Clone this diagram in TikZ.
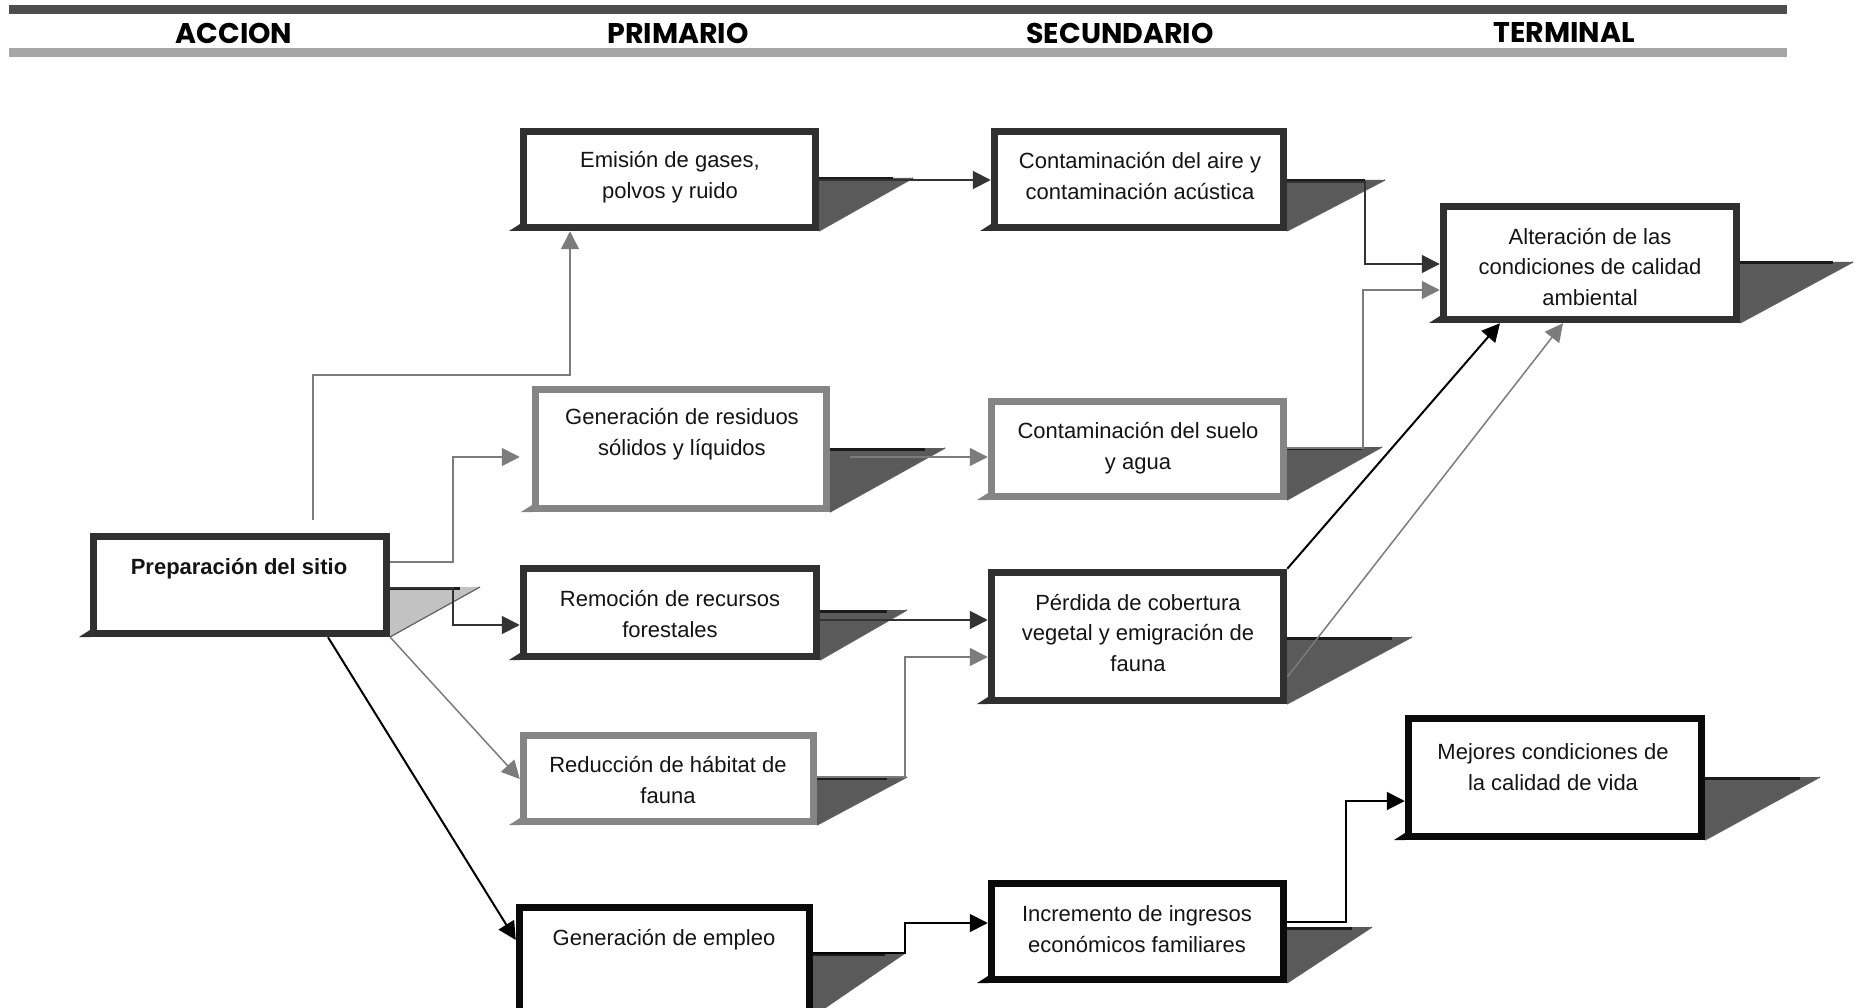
\documentclass[tikz,border=0pt]{standalone}
\usepackage{fontspec}
\setmainfont{Liberation Sans}
\newfontfamily\hdrfont{Poppins}
\usetikzlibrary{arrows.meta}
\definecolor{bdark}{HTML}{303030}
\definecolor{bgray}{HTML}{858585}
\definecolor{bblack}{HTML}{0A0A0A}
\definecolor{shfill}{HTML}{5A5A5A}
\definecolor{shlight}{HTML}{C2C2C2}
\definecolor{shedgec}{HTML}{1A1A1A}
\definecolor{txtc}{HTML}{141414}
\definecolor{lgray}{HTML}{7C7C7C}
\definecolor{ldark}{HTML}{333333}
\definecolor{hbarA}{HTML}{4D4D4D}
\definecolor{hbarB}{HTML}{A6A6A6}
% name, L, T, R, B, border colour, shadow top y, shadow tip x, shadow fill
\newcommand{\effbox}[9]{%
  \fill[#9] (#4,#7) -- (#8,#7) -- (#4,#5) -- cycle;
  \draw[shedgec, line width=3pt] (#4,#7+1) -- (#8-20,#7+1);
  \draw[shedgec!70, line width=1.2pt] (#8,#7) -- (#4,#5);
  \fill[#6] (#2,#5-7) -- (#2-11,#5) -- (#2,#5) -- cycle;
  \node[boxst, draw=#6, minimum width={#4-#2-7}, minimum height={#5-#3-7}] (#1) at ({(#2+#4)/2},{(#3+#5)/2}) {};
}
\begin{document}
\begin{tikzpicture}[x=1pt,y=-1pt,
  boxst/.style={line width=7.5pt, fill=white, inner sep=0pt, rectangle},
  txt/.style={font=\fontsize{22}{30.5}\selectfont, align=center, text=txtc, inner sep=0pt},
  hdr/.style={font=\hdrfont\bfseries\fontsize{28.5}{32}\selectfont, text=black, inner sep=0pt},
  arrowst/.style={-{Triangle[length=18pt,width=18pt]}},
  cgray/.style={draw=lgray, line width=1.5pt, arrowst},
  cdark/.style={draw=ldark, line width=2pt, arrowst},
  cblack/.style={draw=black, line width=2pt, arrowst}]
\useasboundingbox (0,0) rectangle (1858,1008);
\clip (0,0) rectangle (1858,1008);
\fill[white] (0,0) rectangle (1858,1008);
% header
\fill[hbarA] (9,5) rectangle (1787,14);
\fill[hbarB] (9,48) rectangle (1787,57);
\node[hdr] (h1) at (234,33) {ACCION};
\node[hdr] (h2) at (678,33) {PRIMARIO};
\node[hdr] (h3) at (1120,33) {SECUNDARIO};
\node[hdr] (h4) at (1564,33) {TERMINAL};
% boxes
\effbox{prep}{90}{533}{390}{637}{bdark}{587}{480}{shlight}
\effbox{emis}{520}{128}{819}{231}{bdark}{178}{913}{shfill}
\effbox{resid}{532}{386}{830}{512}{bgray}{448}{945}{shfill}
\effbox{remoc}{520}{565}{820}{660}{bdark}{610}{907}{shfill}
\effbox{reduc}{520}{732}{817}{825}{bgray}{777}{907}{shfill}
\effbox{empleo}{516}{904}{813}{1016}{bblack}{953}{905}{shfill}
\effbox{aire}{991}{128}{1287}{231}{bdark}{180}{1385}{shfill}
\effbox{suelo}{988}{398}{1287}{500}{bgray}{447}{1382}{shfill}
\effbox{perd}{988}{569}{1287}{704}{bdark}{637}{1412}{shfill}
\effbox{incr}{988}{880}{1287}{983}{bblack}{927}{1372}{shfill}
\effbox{alter}{1440}{203}{1740}{323}{bdark}{262}{1853}{shfill}
\effbox{mejor}{1405}{715}{1705}{840}{bblack}{777}{1820}{shfill}
% texts
\node[txt, font=\bfseries\fontsize{22}{30.5}\selectfont] (prep-t) at (239,569) {Preparación del sitio};
\node[txt] (emis-t) at (670,177) {Emisión de gases,\\polvos y ruido};
\node[txt] (resid-t) at (682,434) {Generación de residuos\\sólidos y líquidos};
\node[txt] (remoc-t) at (670,614) {Remoción de recursos\\forestales};
\node[txt] (reduc-t) at (668,780) {Reducción de hábitat de\\fauna};
\node[txt] (empleo-t) at (664,940) {Generación de empleo};
\node[txt] (aire-t) at (1140,176) {Contaminación del aire y\\contaminación acústica};
\node[txt] (suelo-t) at (1138,448) {Contaminación del suelo\\y agua};
\node[txt] (perd-t) at (1138,633) {Pérdida de cobertura\\vegetal y emigración de\\fauna};
\node[txt] (incr-t) at (1137,929) {Incremento de ingresos\\económicos familiares};
\node[txt] (alter-t) at (1590,267) {Alteración de las\\condiciones de calidad\\ambiental};
\node[txt] (mejor-t) at (1553,767) {Mejores condiciones de\\la calidad de vida};
% connectors
\coordinate (prepup) at (313,520);
\draw[cgray] (prepup) -- (313,375) -- (570,375) -- (emis.south -| 570,0);
\draw[cgray, shorten >=12pt] (prep.east |- 0,562) -| (453,457) -- (resid.west |- 0,457);
\draw[cdark] (prep.east |- 0,588) -| (453,625) -- (remoc.west |- 0,625);
\draw[cgray] (prep.south east) -- (reduc.west |- 0,779);
\draw[cblack] (prep.south -| 328,0) -- (empleo.west |- 0,940);
\draw[cdark] (emis.east |- 0,180) -- (aire.west |- 0,180);
\draw[cdark, line width=1.5pt] (aire.east |- 0,182) -- (1365,182) -- (1365,264) -- (alter.west |- 0,264);
\draw[cgray, shorten <=20pt] (resid.east |- 0,457) -- (suelo.west |- 0,457);
\draw[cgray] (suelo.east |- 0,448) -- (1363,448) -- (1363,290) -- (alter.west |- 0,290);
\draw[cdark] (remoc.east |- 0,620) -- (perd.west |- 0,620);
\draw[cgray] (reduc.east |- 0,777) -- (905,777) -- (905,657) -- (perd.west |- 0,657);
\draw[cblack] (perd.north east) -- (alter.south -| 1500,0);
\draw[cgray] (perd.east |- 0,677) -- (alter.south -| 1563,0);
\draw[cblack] (empleo.east |- 0,953) -- (905,953) -- (905,923) -- (incr.west |- 0,923);
\draw[cblack] (incr.east |- 0,922) -- (1346,922) -- (1346,801) -- (mejor.west |- 0,801);
\end{tikzpicture}
\end{document}
